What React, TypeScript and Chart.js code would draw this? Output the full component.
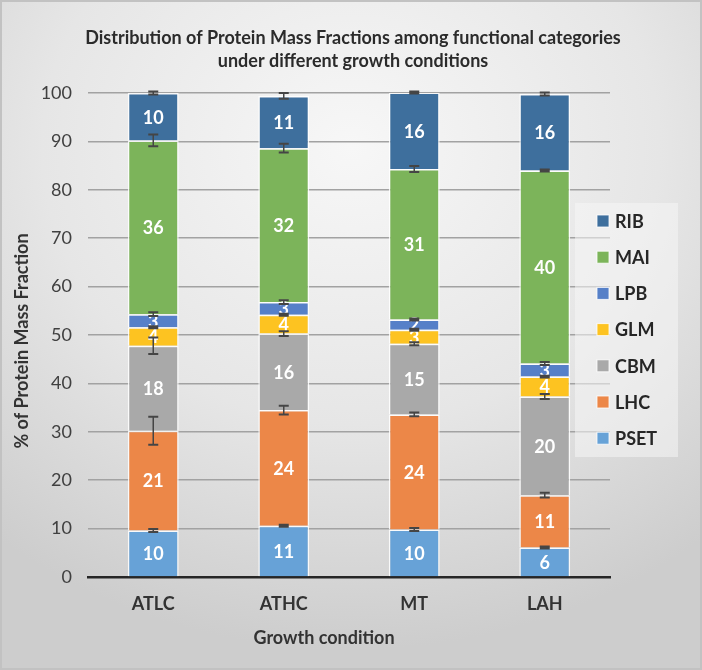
import React, { useEffect, useRef } from "react";
import { Chart, registerables, Plugin } from "chart.js";

Chart.register(...registerables);

// growth conditions (x axis)
const conditions = ["ATLC", "ATHC", "MT", "LAH"];

// protein mass fractions (%) per functional category, stacked bottom -> top
const pset = [9.6, 10.6, 9.8, 6.1];
const lhc = [20.6, 23.9, 23.8, 10.8];
const cbm = [17.6, 15.8, 14.6, 20.4];
const glm = [3.8, 3.9, 2.9, 4.1];
const lpb = [2.7, 2.6, 2.1, 2.7];
const mai = [35.9, 31.8, 31.1, 39.9];
const rib = [9.8, 10.8, 15.8, 15.8];

// error (+/-) at the top of each segment
const psetErr = [0.3, 0.2, 0.3, 0.2];
const lhcErr = [2.9, 0.9, 0.4, 0.5];
const cbmErr = [1.7, 0.5, 0.3, 0.5];
const glmErr = [0.2, 0.2, 0.2, 0.2];
const lpbErr = [0.4, 0.4, 0.2, 0.3];
const maiErr = [1.2, 0.9, 0.6, 0.2];
const ribErr = [0.3, 0.6, 0.2, 0.3];

const yTicks = [0, 10, 20, 30, 40, 50, 60, 70, 80, 90, 100];

const titleLines = [
    "Distribution of Protein Mass Fractions among functional categories",
    "under different growth conditions",
];
const xTitle = "Growth condition";
const yTitle = "% of Protein Mass Fraction";

const series = [
    { label: "PSET", data: pset, err: psetErr, color: "#67a2d7" },
    { label: "LHC", data: lhc, err: lhcErr, color: "#ec8748" },
    { label: "CBM", data: cbm, err: cbmErr, color: "#a9a9a9" },
    { label: "GLM", data: glm, err: glmErr, color: "#fdc321" },
    { label: "LPB", data: lpb, err: lpbErr, color: "#5680c8" },
    { label: "MAI", data: mai, err: maiErr, color: "#7cb45a" },
    { label: "RIB", data: rib, err: ribErr, color: "#3e6f9d" },
];

const FONT = "Lato, 'Open Sans', sans-serif";

// chart title + axis titles
const titles: Plugin<"bar"> = {
    id: "titles",
    afterDraw: (chart) => {
        const { ctx } = chart;
        ctx.save();
        ctx.fillStyle = "#2b2b2b";
        ctx.textAlign = "center";
        ctx.textBaseline = "middle";
        ctx.font = `bold 18px ${FONT}`;
        ctx.fillText(titleLines[0], 353, 38);
        ctx.fillText(titleLines[1], 353, 61);
        ctx.fillStyle = "#333333";
        ctx.fillText(xTitle, 324, 638);
        ctx.translate(22, 341);
        ctx.rotate(-Math.PI / 2);
        ctx.fillText(yTitle, 0, 0);
        ctx.restore();
    },
};

// white value labels in the middle of each segment
const valueLabels: Plugin<"bar"> = {
    id: "valueLabels",
    afterDatasetsDraw: (chart) => {
        const { ctx } = chart;
        ctx.save();
        ctx.font = `bold 18px ${FONT}`;
        ctx.fillStyle = "#ffffff";
        ctx.textAlign = "center";
        ctx.textBaseline = "middle";
        chart.data.datasets.forEach((ds, i) => {
            const meta = chart.getDatasetMeta(i);
            meta.data.forEach((el: any, j) => {
                const v = ds.data[j] as number;
                ctx.fillText(String(Math.round(v)), el.x, (el.y + el.base) / 2 + 1);
            });
        });
        ctx.restore();
    },
};

// error bars at each cumulative segment top
const errorBars: Plugin<"bar"> = {
    id: "errorBars",
    afterDatasetsDraw: (chart) => {
        const { ctx } = chart;
        const yScale = chart.scales.y;
        ctx.save();
        ctx.strokeStyle = "#454545";
        conditions.forEach((_, j) => {
            let cum = 0;
            series.forEach((s, i) => {
                cum += s.data[j];
                const el: any = chart.getDatasetMeta(i).data[j];
                const e = s.err[j];
                const y1 = yScale.getPixelForValue(cum + e);
                const y2 = yScale.getPixelForValue(cum - e);
                const x = el.x;
                ctx.lineWidth = 1.5;
                ctx.beginPath();
                ctx.moveTo(x, y1);
                ctx.lineTo(x, y2);
                ctx.stroke();
                ctx.lineWidth = 2;
                ctx.beginPath();
                ctx.moveTo(x - 5, y1);
                ctx.lineTo(x + 5, y1);
                ctx.moveTo(x - 5, y2);
                ctx.lineTo(x + 5, y2);
                ctx.stroke();
            });
        });
        ctx.restore();
    },
};

// legend box on the right, top item = top of stack
const sideLegend: Plugin<"bar"> = {
    id: "sideLegend",
    afterDatasetsDraw: (chart) => {
        const { ctx } = chart;
        ctx.save();
        ctx.fillStyle = "rgba(245,245,245,0.55)";
        ctx.fillRect(575, 203, 103, 254);
        ctx.font = `bold 18px ${FONT}`;
        ctx.textBaseline = "middle";
        ctx.textAlign = "left";
        const items = [...series].reverse();
        items.forEach((s, k) => {
            const y = 221 + k * 36.2;
            ctx.fillStyle = s.color;
            ctx.fillRect(597, y - 6, 12, 12);
            ctx.strokeStyle = "rgba(255,255,255,0.8)";
            ctx.lineWidth = 1;
            ctx.strokeRect(597, y - 6, 12, 12);
            ctx.fillStyle = "#262626";
            ctx.fillText(s.label, 615, y + 1);
        });
        ctx.restore();
    },
};

const App: React.FC = () => {
    const canvasRef = useRef<HTMLCanvasElement | null>(null);
    const chartRef = useRef<Chart<"bar"> | null>(null);

    useEffect(() => {
        if (!canvasRef.current) return;
        if (chartRef.current) chartRef.current.destroy();

        chartRef.current = new Chart(canvasRef.current, {
            type: "bar",
            data: {
                labels: conditions,
                datasets: series.map((s) => ({
                    label: s.label,
                    data: s.data,
                    backgroundColor: s.color,
                    borderColor: "rgba(255,255,255,0.85)",
                    borderWidth: 1.5,
                    categoryPercentage: 1,
                    barPercentage: 0.39,
                })),
            },
            options: {
                responsive: false,
                animation: false,
                layout: { padding: { left: 0, right: 92, top: 93, bottom: 0 } },
                plugins: {
                    legend: { display: false },
                    tooltip: { enabled: false },
                    title: { display: false },
                },
                scales: {
                    x: {
                        stacked: true,
                        grid: { display: false, drawTicks: false },
                        border: { display: true, color: "#262626", width: 2.5 },
                        ticks: {
                            color: "#333333",
                            padding: 16,
                            font: { family: FONT, size: 18, weight: "bold" },
                        },
                        afterFit: (scale) => {
                            scale.height = 93;
                        },
                    },
                    y: {
                        stacked: true,
                        min: 0,
                        max: 100,
                        afterBuildTicks: (scale) => {
                            scale.ticks = yTicks.map((v) => ({ value: v }));
                        },
                        grid: { color: "#a2a2a2", lineWidth: 1.5, drawTicks: false },
                        border: { display: false },
                        ticks: {
                            color: "#404040",
                            padding: 16,
                            font: { family: FONT, size: 18 },
                        },
                        afterFit: (scale) => {
                            scale.width = 88;
                        },
                    },
                },
            },
            plugins: [sideLegend, valueLabels, errorBars, titles],
        });

        return () => {
            chartRef.current?.destroy();
            chartRef.current = null;
        };
    }, []);

    return (
        <div
            style={{
                position: "absolute",
                left: 0,
                top: 0,
                width: 702,
                height: 670,
                background:
                    "radial-gradient(ellipse 80% 75% at 50% 22%, #f7f7f7 0%, #e6e6e6 55%, #cdcdcd 100%)",
                boxShadow: "inset 0 0 0 2px #c2c2c2",
            }}
        >
            <canvas ref={canvasRef} width={702} height={670} style={{ display: "block" }}></canvas>
        </div>
    );
};

export default App;
